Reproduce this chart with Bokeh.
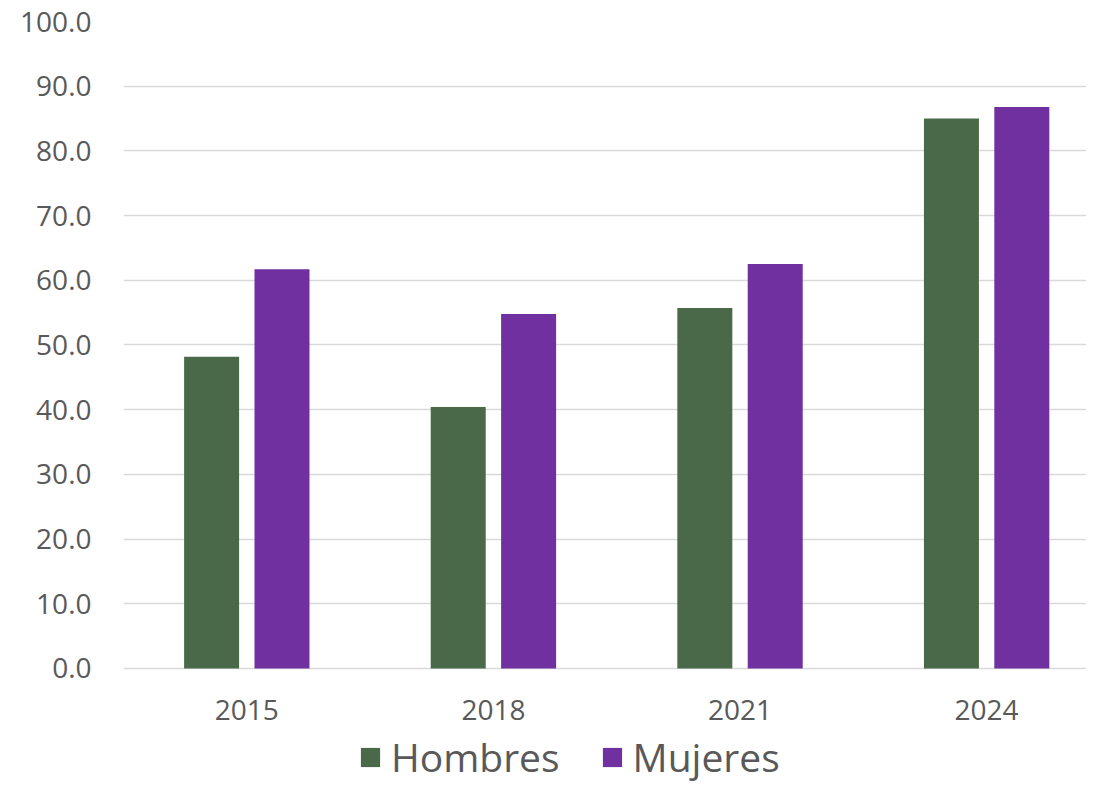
from bokeh.plotting import figure
from bokeh.models import Range1d, FixedTicker, NumeralTickFormatter, Legend, LegendItem, ColumnDataSource
from bokeh.embed import file_html
from bokeh.resources import INLINE

years = ["2015", "2018", "2021", "2024"]
hombres = [48.2, 40.4, 55.7, 85.0]
mujeres = [61.7, 54.8, 62.5, 86.8]

FONT = "Open Sans"
TXT = "#595959"
GREEN = "#4A6948"
PURPLE = "#7030A0"

pos = list(range(len(years)))
src = ColumnDataSource(dict(
    xh=[p - 0.1427 for p in pos],
    xm=[p + 0.1427 for p in pos],
    h=hombres, m=mujeres))

p = figure(width=1086, height=783, output_backend="svg", toolbar_location=None,
           x_range=Range1d(-0.5, 3.405), y_range=Range1d(-17.78, 100),
           min_border_left=123, min_border_right=0, min_border_top=21, min_border_bottom=0)
p.outline_line_color = None
p.background_fill_color = "white"
p.border_fill_color = "white"

rh = p.vbar(x="xh", top="h", width=0.223, bottom=0, source=src, fill_color=GREEN, line_color=None)
rm = p.vbar(x="xm", top="m", width=0.223, bottom=0, source=src, fill_color=PURPLE, line_color=None)

p.xgrid.grid_line_color = None
p.ygrid.grid_line_color = "#D9D9D9"
p.ygrid.grid_line_width = 1.5

p.yaxis.ticker = FixedTicker(ticks=list(range(0, 101, 10)))
p.yaxis.formatter = NumeralTickFormatter(format="0.0")
p.xaxis.ticker = FixedTicker(ticks=pos)
p.xaxis.major_label_overrides = {i: y for i, y in enumerate(years)}
p.xaxis.fixed_location = 0

for ax in (p.xaxis[0], p.yaxis[0]):
    ax.axis_line_color = None
    ax.major_tick_line_color = None
    ax.minor_tick_line_color = None
    ax.major_label_text_font = FONT
    ax.major_label_text_font_size = "28px"
    ax.major_label_text_color = TXT
p.yaxis.major_label_standoff = 26
p.xaxis.major_label_standoff = 26

legend = Legend(items=[LegendItem(label="Hombres", renderers=[rh]),
                       LegendItem(label="Mujeres", renderers=[rm])],
                orientation="horizontal", location=(235, 0),
                glyph_width=24, glyph_height=24, label_standoff=9, spacing=40,
                padding=0, margin=0, border_line_color=None, background_fill_alpha=0,
                label_text_font=FONT, label_text_font_size="39px", label_text_color=TXT)
p.add_layout(legend, "center")

open("out.html", "w").write(file_html(p, INLINE))
